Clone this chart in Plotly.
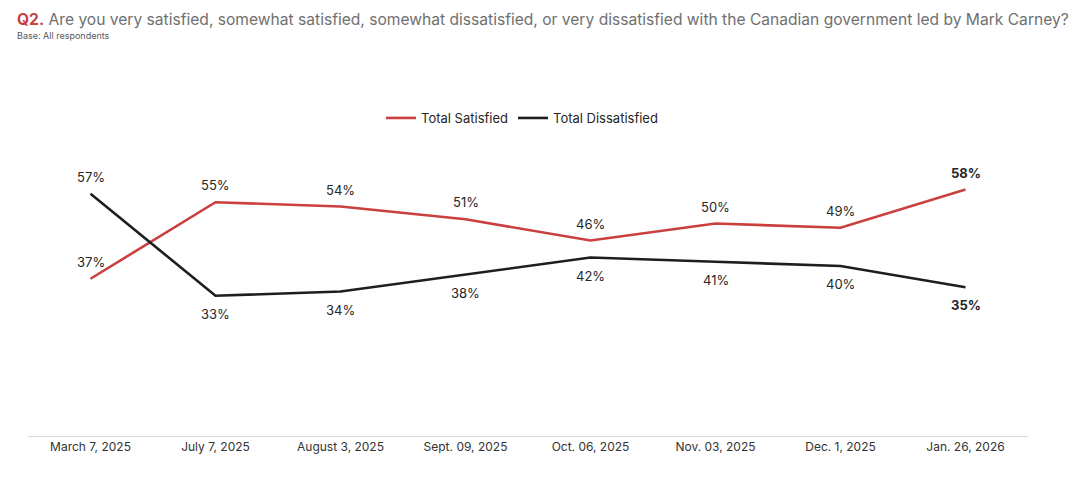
import plotly.graph_objects as go

categories = ["March 7, 2025", "July 7, 2025", "August 3, 2025", "Sept. 09, 2025",
              "Oct. 06, 2025", "Nov. 03, 2025", "Dec. 1, 2025", "Jan. 26, 2026"]
satisfied = [37, 55, 54, 51, 46, 50, 49, 58]
dissatisfied = [57, 33, 34, 38, 42, 41, 40, 35]

RED = "#C9403F"
BLACK = "#1E1E1E"
FONT = "Inter"

# page offset (browser default body margin)
OFF = 8
W, H = 1080 - OFF, 483 - OFF
TOP = 90          # screen px of plot top
BOTTOM_PX = 436   # screen px of y=0
LEFT = 28         # screen px of plot left
PLOT_W = 1000
PLOT_H = BOTTOM_PX - TOP
YMAX = PLOT_H / 4.25


def py(pix):
    return (BOTTOM_PX - pix) / PLOT_H


def px(pix):
    return (pix - LEFT) / PLOT_W


fig = go.Figure()
fig.add_trace(go.Scatter(x=categories, y=satisfied, mode="lines", name="Total Satisfied",
                         line=dict(color=RED, width=2.6), hoverinfo="skip"))
fig.add_trace(go.Scatter(x=categories, y=dissatisfied, mode="lines", name="Total Dissatisfied",
                         line=dict(color=BLACK, width=2.6), hoverinfo="skip"))

annotations = []
n = len(categories)
for i, (c, v) in enumerate(zip(categories, satisfied)):
    last = i == n - 1
    annotations.append(dict(x=c, y=v, text=(f"<b>{v}%</b>" if last else f"{v}%"),
                            showarrow=False, yanchor="middle", yshift=17,
                            font=dict(family=FONT, size=13, color="#262626")))
for i, (c, v) in enumerate(zip(categories, dissatisfied)):
    last = i == n - 1
    shift = 17 if i == 0 else -18
    annotations.append(dict(x=c, y=v, text=(f"<b>{v}%</b>" if last else f"{v}%"),
                            showarrow=False, yanchor="middle", yshift=shift,
                            font=dict(family=FONT, size=13, color="#262626")))

annotations.append(dict(xref="paper", yref="paper", x=px(15), y=py(19),
                        xanchor="left", yanchor="middle", showarrow=False,
                        text="<b><span style='color:#C9403F'>Q2.</span></b> Are you very satisfied, somewhat satisfied, somewhat dissatisfied, or very dissatisfied with the Canadian government led by Mark Carney?",
                        font=dict(family=FONT, size=15.6, color="#707070")))
annotations.append(dict(xref="paper", yref="paper", x=px(15), y=py(36),
                        xanchor="left", yanchor="middle", showarrow=False,
                        text="Base: All respondents",
                        font=dict(family=FONT, size=9, color="#595959")))

fig.update_layout(
    width=W, height=H,
    margin=dict(l=LEFT - OFF, r=W - (LEFT - OFF) - PLOT_W, t=TOP - OFF, b=H - (BOTTOM_PX - OFF),
                autoexpand=False),
    paper_bgcolor="white", plot_bgcolor="white",
    showlegend=True,
    legend=dict(orientation="h", x=px(522), xanchor="center", y=py(118), yanchor="middle",
                font=dict(family=FONT, size=13, color="#262626"),
                traceorder="normal", bgcolor="rgba(0,0,0,0)"),
    xaxis=dict(type="category", range=[-0.5, 7.5], showgrid=False, zeroline=False, showline=True,
               linecolor="#D9D9D9", linewidth=1, ticks="",
               tickfont=dict(family=FONT, size=12, color="#333333"), fixedrange=True),
    yaxis=dict(range=[0, YMAX], visible=False, fixedrange=True),
    annotations=annotations,
)

fig.write_html("out.html")
